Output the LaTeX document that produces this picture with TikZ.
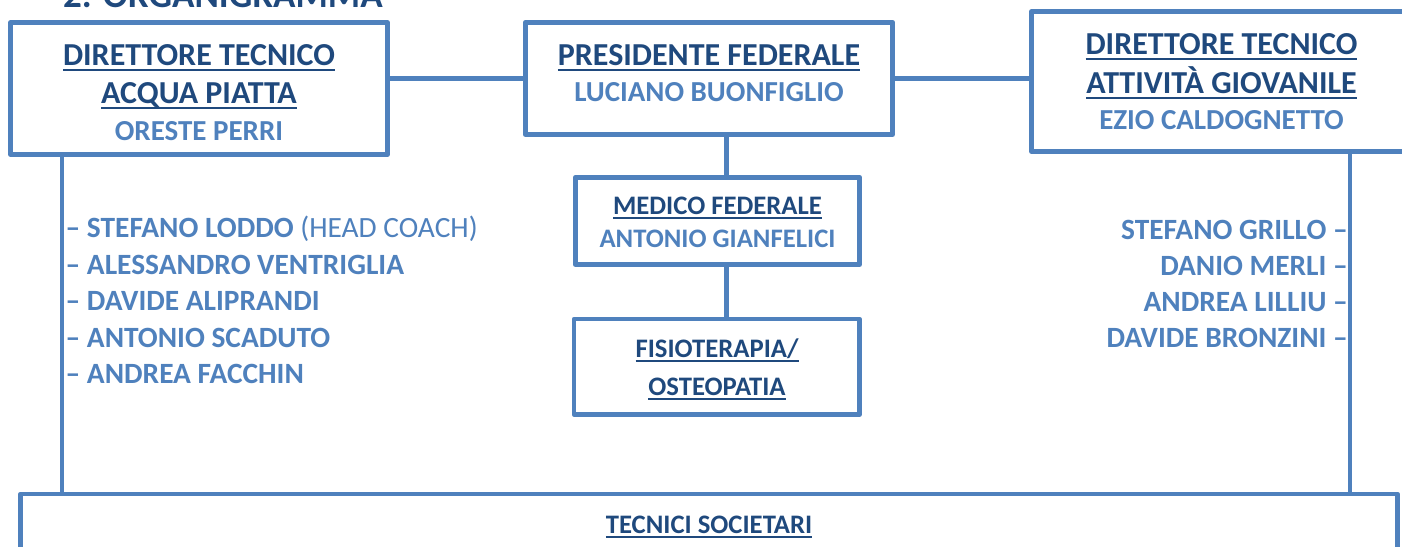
\documentclass[tikz,border=0pt]{standalone}
\usepackage{fontspec}
\setmainfont{Carlito}
\definecolor{dk}{HTML}{1F497D}
\definecolor{lt}{HTML}{4F81BD}
\newsavebox\ulbox
\newcommand\ulx[1]{\sbox\ulbox{#1}\rlap{\rule[-0.18em]{\wd\ulbox}{0.07em}}\usebox\ulbox}
\tikzset{
  box/.style={draw=lt, line width=4.5pt, line join=round, inner sep=0pt, fill=none},
  conn/.style={draw=lt, line width=4.5pt},
  hd/.style={anchor=base, inner sep=0pt, text=dk, font=\fontsize{32}{38}\selectfont\bfseries},
  nm/.style={anchor=base, inner sep=0pt, text=lt, font=\fontsize{29}{36}\selectfont\bfseries},
  hds/.style={anchor=base, inner sep=0pt, text=dk, font=\fontsize{26.7}{32}\selectfont\bfseries},
  nms/.style={anchor=base, inner sep=0pt, text=lt, font=\fontsize{26.7}{32}\selectfont\bfseries},
  lstl/.style={anchor=base west, inner sep=0pt, text=lt, font=\fontsize{29.4}{34}\selectfont\bfseries},
  lstr/.style={anchor=base east, inner sep=0pt, text=lt, font=\fontsize{29.4}{34}\selectfont\bfseries}
}
\begin{document}
\begin{tikzpicture}[x=1pt,y=-1pt]
\useasboundingbox[fill=white] (0,0) rectangle (1402,546);
% title (cut off at top, as in the reference)
\node[anchor=base west, inner sep=0pt, text=dk, font=\fontsize{37}{40}\selectfont\bfseries] (title) at (63,7) {2. ORGANIGRAMMA};
% boxes
\node[box, minimum width=377pt, minimum height=132pt] (L) at (199,88.5) {};
\node[box, minimum width=367.4pt, minimum height=112.4pt] (M) at (709,78.5) {};
\node[box, minimum width=380pt, minimum height=140.4pt] (R) at (1221.5,81.5) {};
\node[box, minimum width=284.4pt, minimum height=87.4pt] (Md) at (717.5,221) {};
\node[box, minimum width=285.5pt, minimum height=95.5pt] (F) at (716.8,366.8) {};
\node[box, minimum width=1377pt, minimum height=126pt] (B) at (709,557) {};
% connectors
\draw[conn] (L.east |- M.west) -- (M.west);
\draw[conn] (M.east) -- (R.west |- M.east);
\draw[conn] ([xshift=9pt]Md.north |- M.south) -- ([xshift=9pt]Md.north);
\draw[conn] ([xshift=9pt]Md.south) -- ([xshift=9pt]Md.south |- F.north);
\draw[conn] ([xshift=53.5pt]L.south west) -- ([xshift=53.5pt]L.south west |- B.north);
\draw[conn] ([xshift=320.5pt]R.south west) -- ([xshift=320.5pt]R.south west |- B.north);
% left box text
\node[hd] (L1) at (199,65) {\ulx{DIRETTORE TECNICO}};
\node[hd] (L2) at (199,103) {\ulx{ACQUA PIATTA}};
\node[nm] (L3) at (199,140) {ORESTE PERRI};
% middle box text
\node[hd] (M1) at (709,65) {\ulx{PRESIDENTE FEDERALE}};
\node[nm] (M2) at (709,101) {LUCIANO BUONFIGLIO};
% right box text
\node[hd] (R1) at (1221.5,54) {\ulx{DIRETTORE TECNICO}};
\node[hd] (R2) at (1221.5,93) {\ulx{ATTIVITÀ GIOVANILE}};
\node[nm] (R3) at (1221.5,129) {EZIO CALDOGNETTO};
% medico
\node[hds] (Md1) at (717.5,214) {\ulx{MEDICO FEDERALE}};
\node[nms] (Md2) at (717.5,247) {ANTONIO GIANFELICI};
% fisio
\node[hds] (F1) at (717,357) {\ulx{FISIOTERAPIA/}};
\node[hds] (F2) at (717,395) {\ulx{OSTEOPATIA}};
% bottom
\node[hds] (B1) at (709,533) {\ulx{TECNICI SOCIETARI}};
% left list
\node[lstl] (a1) at (65.5,237.5) {– STEFANO LODDO {\mdseries (HEAD COACH)}};
\node[lstl] (a2) at (65.5,274) {– ALESSANDRO VENTRIGLIA};
\node[lstl] (a3) at (65.5,310.5) {– DAVIDE ALIPRANDI};
\node[lstl] (a4) at (65.5,347) {– ANTONIO SCADUTO};
\node[lstl] (a5) at (65.5,383.5) {– ANDREA FACCHIN};
% right list
\node[lstr] (b1) at (1348,239) {STEFANO GRILLO –};
\node[lstr] (b2) at (1348,275) {DANIO MERLI –};
\node[lstr] (b3) at (1348,311.5) {ANDREA LILLIU –};
\node[lstr] (b4) at (1348,347) {DAVIDE BRONZINI –};
\end{tikzpicture}
\end{document}
